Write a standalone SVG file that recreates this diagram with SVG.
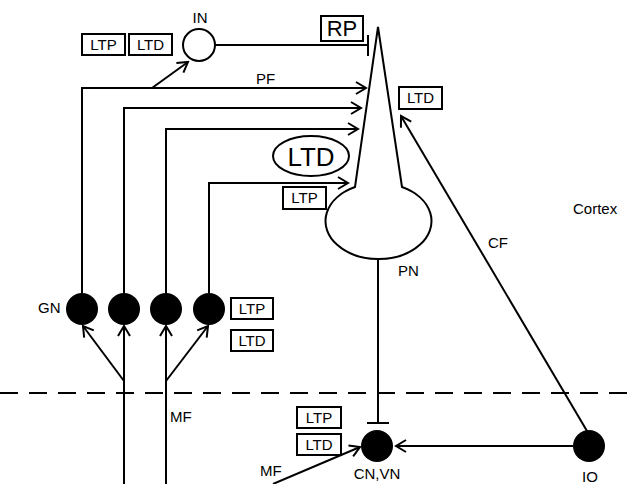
<svg xmlns="http://www.w3.org/2000/svg" width="638" height="484" viewBox="0 0 638 484">
<defs>
<marker id="arr" markerUnits="userSpaceOnUse" markerWidth="14" markerHeight="14" viewBox="0 0 14 14" refX="12" refY="7" orient="auto">
<path d="M2,1 L12,7 L2,13" fill="none" stroke="#000" stroke-width="2"/>
</marker>
<style>
.ln{fill:none;stroke:#000;stroke-width:2}
.box{fill:#fff;stroke:#000;stroke-width:2}
.t{font-family:"Liberation Sans",Arial,sans-serif;font-size:15px;fill:#000}
.bt{font-family:"Liberation Sans",Arial,sans-serif;font-size:15px;fill:#000;text-anchor:middle}
.dot{fill:#000}
</style>
</defs>
<rect width="638" height="484" fill="#fff"/>
<g id="connectors">
<line x1="0" y1="393" x2="638" y2="393" stroke="#000" stroke-width="2" stroke-dasharray="18 11"/>
<path class="ln" d="M82,293 V88 H366" marker-end="url(#arr)"/>
<path class="ln" d="M124,293 V108 H361" marker-end="url(#arr)"/>
<path class="ln" d="M166,293 V129 H358" marker-end="url(#arr)"/>
<path class="ln" d="M209,293 V183 H348" marker-end="url(#arr)"/>
<line class="ln" x1="152" y1="88" x2="188" y2="62" marker-end="url(#arr)"/>
<line class="ln" x1="215" y1="45" x2="368" y2="45"/>
<line class="ln" x1="368" y1="35" x2="368" y2="56"/>
<line class="ln" x1="124" y1="484" x2="124" y2="326" marker-end="url(#arr)"/>
<line class="ln" x1="166" y1="484" x2="166" y2="326" marker-end="url(#arr)"/>
<line class="ln" x1="124" y1="381" x2="83" y2="326" marker-end="url(#arr)"/>
<line class="ln" x1="166" y1="381" x2="208" y2="326" marker-end="url(#arr)"/>
<line class="ln" x1="378" y1="260" x2="378" y2="423"/>
<line class="ln" x1="367" y1="423" x2="389" y2="423"/>
<line class="ln" x1="573" y1="446" x2="396" y2="446" marker-end="url(#arr)"/>
<line class="ln" x1="587" y1="431" x2="401" y2="116" marker-end="url(#arr)"/>
<line class="ln" x1="273" y1="484" x2="360" y2="447" marker-end="url(#arr)"/>
</g>
<g id="PN">
<path class="ln" d="M378,27 L355,187 A53 38 0 1 0 402,187 Z" fill="#fff"/>
<text class="t" x="398" y="276">PN</text>
</g>
<g id="IN">
<circle cx="199" cy="45" r="16" fill="#fff" stroke="#000" stroke-width="2"/>
<text class="bt" x="200" y="23">IN</text>
</g>
<g id="RP">
<rect class="box" x="321" y="16" width="42" height="25"/>
<text x="342" y="36" font-family="Liberation Sans, Arial, sans-serif" font-size="22" text-anchor="middle">RP</text>
</g>
<g id="IN-labels">
<rect class="box" x="82" y="34" width="43" height="21"/>
<text class="bt" x="103.5" y="50">LTP</text>
<rect class="box" x="129" y="34" width="43" height="21"/>
<text class="bt" x="150.5" y="50">LTD</text>
</g>
<g id="PF-label"><text class="t" x="256" y="84">PF</text></g>
<g id="LTD-ellipse">
<ellipse cx="311" cy="156" rx="38" ry="20" fill="#fff" stroke="#000" stroke-width="2"/>
<text x="311" y="166" font-family="Liberation Sans, Arial, sans-serif" font-size="26" text-anchor="middle">LTD</text>
</g>
<g id="LTP-pf">
<rect class="box" x="283" y="187" width="43" height="22"/>
<text class="bt" x="304.5" y="203">LTP</text>
</g>
<g id="LTD-cf">
<rect class="box" x="399" y="87" width="43" height="22"/>
<text class="bt" x="420.5" y="103">LTD</text>
</g>
<g id="GN">
<circle class="dot" cx="82" cy="309" r="16"/>
<circle class="dot" cx="124" cy="309" r="16"/>
<circle class="dot" cx="166" cy="309" r="16"/>
<circle class="dot" cx="209" cy="309" r="16"/>
<text class="t" x="38" y="313">GN</text>
<rect class="box" x="231" y="298" width="42" height="21"/>
<text class="bt" x="252" y="314">LTP</text>
<rect class="box" x="231" y="330" width="42" height="21"/>
<text class="bt" x="252" y="346">LTD</text>
</g>
<g id="MF-label"><text class="t" x="170" y="422">MF</text></g>
<g id="CNVN">
<circle class="dot" cx="377" cy="446" r="16"/>
<text class="bt" x="377" y="479">CN,VN</text>
<rect class="box" x="297" y="407" width="44" height="21"/>
<text class="bt" x="319" y="423">LTP</text>
<rect class="box" x="297" y="434" width="44" height="21"/>
<text class="bt" x="319" y="450">LTD</text>
<text class="t" x="260" y="476">MF</text>
</g>
<g id="IO">
<circle class="dot" cx="589" cy="446" r="16"/>
<text class="bt" x="590" y="482">IO</text>
</g>
<g id="labels">
<text class="t" x="488" y="248">CF</text>
<text class="t" x="573" y="214">Cortex</text>
</g>
</svg>
